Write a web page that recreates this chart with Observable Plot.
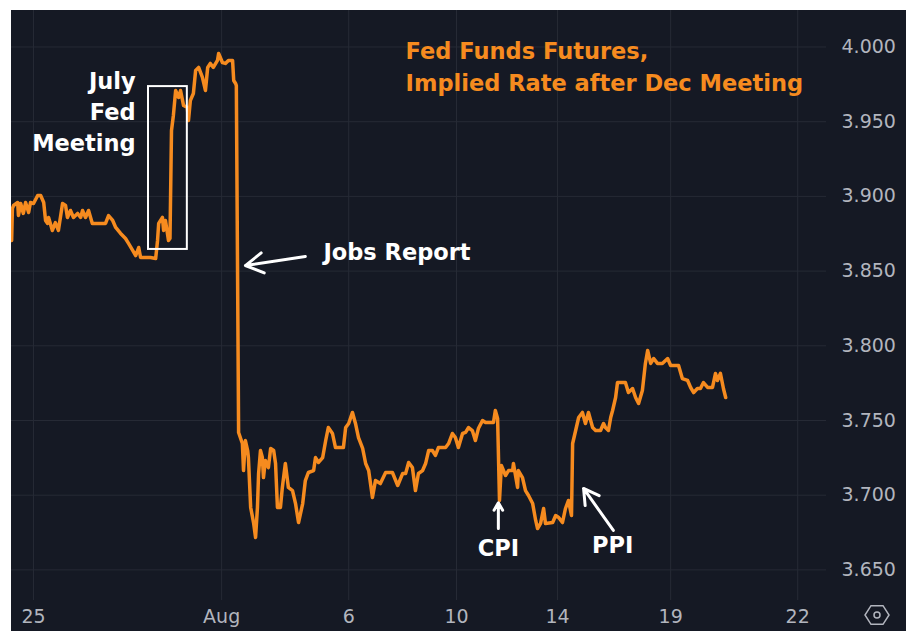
<!DOCTYPE html>
<html><head><meta charset="utf-8">
<script src="https://cdn.jsdelivr.net/npm/d3@7"></script>
<script src="https://cdn.jsdelivr.net/npm/@observablehq/plot@0.6"></script>
<style>
html,body{margin:0;padding:0;background:#fff;}
#wrap{position:absolute;left:11px;top:10px;width:895px;height:621px;background:#151924;}
</style></head><body><div id="wrap"></div>
<script>
// trading-day position (0 = Jul 25 session) and implied rate
const times = [-0.58,-0.56,-0.53,-0.42,-0.40,-0.34,-0.27,-0.21,-0.13,-0.08,0.00,0.11,0.19,0.27,0.32,0.37,0.40,0.50,0.58,0.66,0.77,0.85,0.90,0.98,1.06,1.17,1.25,1.30,1.38,1.46,1.56,1.64,1.72,1.91,1.99,2.10,2.18,2.31,2.44,2.52,2.63,2.71,2.79,2.84,3.10,3.24,3.29,3.32,3.42,3.45,3.50,3.58,3.62,3.66,3.71,3.77,3.85,3.90,3.98,4.08,4.11,4.16,4.24,4.30,4.38,4.48,4.56,4.62,4.69,4.77,4.88,4.91,5.01,5.09,5.17,5.28,5.31,5.36,5.38,5.44,5.54,5.57,5.62,5.68,5.70,5.76,5.84,5.89,5.94,5.97,6.02,6.07,6.10,6.15,6.23,6.29,6.37,6.42,6.47,6.55,6.60,6.68,6.76,6.87,6.95,7.03,7.14,7.21,7.29,7.43,7.48,7.56,7.67,7.75,7.82,7.93,8.01,8.14,8.22,8.28,8.36,8.46,8.54,8.62,8.73,8.81,8.89,8.99,9.07,9.20,9.34,9.52,9.66,9.79,9.87,9.95,10.05,10.13,10.21,10.32,10.40,10.48,10.58,10.66,10.74,10.93,11.01,11.11,11.19,11.27,11.38,11.46,11.54,11.64,11.72,11.80,11.91,11.99,12.20,12.25,12.31,12.36,12.41,12.52,12.60,12.71,12.73,12.84,12.86,12.97,13.05,13.13,13.24,13.32,13.37,13.45,13.53,13.58,13.77,13.85,13.93,14.03,14.11,14.19,14.27,14.30,14.38,14.46,14.56,14.64,14.72,14.83,14.91,15.04,15.12,15.17,15.25,15.31,15.36,15.44,15.49,15.57,15.70,15.78,15.89,15.97,16.05,16.15,16.23,16.29,16.37,16.45,16.55,16.68,16.82,16.90,17.11,17.21,17.35,17.43,17.51,17.61,17.69,17.77,17.88,18.01,18.09,18.14,18.22,18.30,18.36];
const rates = [3.8705,3.8919,3.8939,3.8959,3.8872,3.8952,3.8886,3.8959,3.8892,3.8959,3.8952,3.9006,3.9006,3.8959,3.8839,3.8819,3.8859,3.8772,3.8825,3.8772,3.8952,3.8939,3.8859,3.8906,3.8859,3.8886,3.8859,3.8906,3.8859,3.8906,3.8819,3.8819,3.8819,3.8819,3.8872,3.8839,3.8792,3.8752,3.8718,3.8685,3.8638,3.8604,3.8658,3.8591,3.8591,3.8584,3.8705,3.8819,3.8859,3.8772,3.8839,3.8705,3.8718,3.9441,3.9542,3.9709,3.9662,3.9709,3.9608,3.9595,3.9508,3.9642,3.9689,3.9843,3.9863,3.9796,3.9709,3.9863,3.9890,3.9863,3.9910,3.9957,3.9896,3.9890,3.9910,3.9910,3.9776,3.9756,3.9742,3.7420,3.7346,3.7165,3.7366,3.7299,3.7252,3.6918,3.6811,3.6717,3.6918,3.7145,3.7299,3.7252,3.7118,3.7232,3.7185,3.7313,3.7299,3.7212,3.6918,3.6918,3.7052,3.7212,3.7052,3.7031,3.6944,3.6817,3.6944,3.7098,3.7152,3.7165,3.7252,3.7219,3.7252,3.7366,3.7453,3.7413,3.7319,3.7319,3.7319,3.7453,3.7480,3.7554,3.7480,3.7386,3.7313,3.7212,3.7165,3.6985,3.7098,3.7078,3.7152,3.7152,3.7065,3.7145,3.7145,3.7219,3.7185,3.7031,3.7145,3.7165,3.7212,3.7299,3.7299,3.7266,3.7319,3.7319,3.7346,3.7413,3.7386,3.7319,3.7413,3.7420,3.7453,3.7433,3.7366,3.7446,3.7500,3.7487,3.7487,3.7567,3.7513,3.6965,3.7199,3.7132,3.7165,3.7165,3.7212,3.7052,3.7165,3.7118,3.7031,3.6998,3.6944,3.6831,3.6777,3.6811,3.6911,3.6811,3.6817,3.6864,3.6851,3.6817,3.6911,3.6965,3.6864,3.7346,3.7433,3.7520,3.7554,3.7480,3.7554,3.7453,3.7433,3.7433,3.7480,3.7453,3.7433,3.7520,3.7567,3.7654,3.7754,3.7754,3.7754,3.7687,3.7714,3.7654,3.7614,3.7701,3.7882,3.7969,3.7882,3.7915,3.7882,3.7882,3.7915,3.7868,3.7868,3.7781,3.7768,3.7721,3.7687,3.7714,3.7714,3.7754,3.7721,3.7721,3.7815,3.7768,3.7815,3.7714,3.7654];

const tickTimes = [0, 4.99, 8.36, 11.22, 13.90, 16.90, 20.27];
const tickLabels = ["25", "Aug", "6", "10", "14", "19", "22"];
const rateTicks = [3.65, 3.70, 3.75, 3.80, 3.85, 3.90, 3.95, 4.00];

// annotations (data coordinates)
const titleText = "Fed Funds Futures,\nImplied Rate after Dec Meeting";
const fedText = "July\nFed\nMeeting";
const fedBox = {t1: 3.05, t2: 4.08, r1: 3.8645, r2: 3.9735};
const jobsArrow = {t1: 7.21, r1: 3.8598, t2: 5.62, r2: 3.8537};
const cpiArrow = {t1: 12.33, r1: 3.6777, t2: 12.33, r2: 3.6950};
const ppiArrow = {t1: 15.38, r1: 3.6764, t2: 14.59, r2: 3.7045};

const series = times.map((t, i) => ({t, rate: rates[i]}));
const ORANGE = "#f68b1f";
const GRID = "#262a35";
const FONT = "DejaVu Sans";
const ANNO = 22.5;

const chart = Plot.plot({
  width: 895, height: 621,
  marginLeft: 0, marginRight: 80, marginTop: 0, marginBottom: 31,
  style: {background: "transparent", color: "#b2b5be", fontFamily: FONT, fontSize: "19px"},
  x: {domain: [-0.584, 21.034]},
  y: {domain: [3.62952, 4.02443]},
  marks: [
    Plot.gridY(rateTicks, {stroke: GRID, strokeOpacity: 1, strokeWidth: 1}),
    Plot.gridX(tickTimes, {stroke: GRID, strokeOpacity: 1, strokeWidth: 1}),
    Plot.axisY(rateTicks, {anchor: "right", tickSize: 0, tickPadding: 15, tickFormat: d => d.toFixed(3), fontSize: 19}),
    Plot.axisX(tickTimes, {anchor: "bottom", tickSize: 0, tickPadding: 9, tickFormat: d => tickLabels[tickTimes.indexOf(d)], fontSize: 19}),
    Plot.line(series, {x: "t", y: "rate", stroke: ORANGE, strokeWidth: 3.5, strokeLinejoin: "round", clip: true}),
    Plot.rect([fedBox], {x1: "t1", x2: "t2", y1: "r1", y2: "r2", fill: "none", stroke: "white", strokeWidth: 2}),
    Plot.text([fedText], {x: 2.71, y: 3.9575, text: d => d, textAnchor: "end", lineHeight: 1.38, fill: "white", fontWeight: "bold", fontSize: ANNO}),
    Plot.text([titleText], {x: 9.87, y: 3.9883, text: d => d, textAnchor: "start", lineHeight: 1.42, fill: ORANGE, fontWeight: "bold", fontSize: ANNO}),
    Plot.text(["Jobs Report"], {x: 7.69, y: 3.8625, text: d => d, textAnchor: "start", fill: "white", fontWeight: "bold", fontSize: ANNO}),
    Plot.text(["CPI"], {x: 12.33, y: 3.6643, text: d => d, fill: "white", fontWeight: "bold", fontSize: ANNO}),
    Plot.text(["PPI"], {x: 15.36, y: 3.6663, text: d => d, fill: "white", fontWeight: "bold", fontSize: ANNO}),
    Plot.arrow([jobsArrow, cpiArrow, ppiArrow], {x1: "t1", y1: "r1", x2: "t2", y2: "r2", stroke: "white", strokeWidth: 3, headLength: 11})
  ]
});
document.getElementById("wrap").appendChild(chart);

// settings icon at bottom-right corner (decoration)
const svg = d3.select(chart);
const cx = 866, cy = 605, r = 12;
const hex = d3.range(6).map(k => [cx + r * Math.cos(k * Math.PI / 3), cy + r * 0.9 * Math.sin(k * Math.PI / 3)]);
svg.append("path").attr("d", "M" + hex.join("L") + "Z").attr("fill", "none").attr("stroke", "#b2b5be").attr("stroke-width", 1.5);
svg.append("circle").attr("cx", cx).attr("cy", cy).attr("r", 3).attr("fill", "none").attr("stroke", "#b2b5be").attr("stroke-width", 1.5);
</script>
</body></html>
